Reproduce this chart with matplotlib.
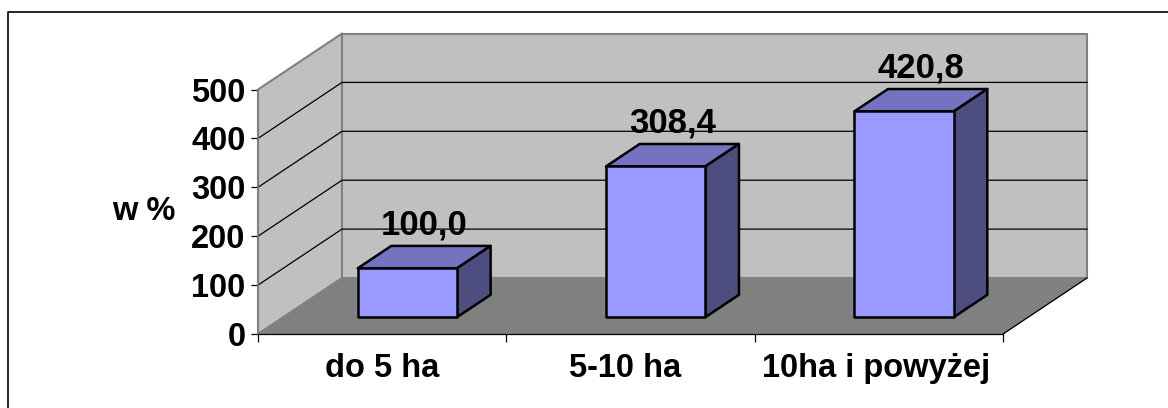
import matplotlib
matplotlib.use('Agg')
import matplotlib.pyplot as plt
from matplotlib.patches import Polygon
from matplotlib.lines import Line2D

categories = ['do 5 ha', '5-10 ha', '10ha i powyżej']
values = [100.0, 308.4, 420.8]
value_labels = ['100,0', '308,4', '420,8']
y_ticks = [0, 100, 200, 300, 400, 500]
label_pos = [0.5, 1.48, 2.49]

W, H = 1168, 408
plt.rcParams['font.family'] = ['Liberation Sans', 'DejaVu Sans']
plt.rcParams['font.weight'] = 'bold'

fig = plt.figure(figsize=(W/100, H/100), dpi=100)
left, right, top, bottom = 258, 1003, 89.5, 334
ax = fig.add_axes([left/W, 1-bottom/H, (right-left)/W, (bottom-top)/H])
ax.set_xlim(0, len(categories))
ax.set_ylim(0, 500)

# depth of the 3d box, in data units
depth_x = 84/((right-left)/3)
depth_y = 56/((bottom-top)/500)

def pt(x, y, d=1.0):
    return (x+d*depth_x, y+d*depth_y)

def face(points, color, edge, lw, z):
    ax.add_patch(Polygon(points, closed=True, facecolor=color, edgecolor=edge,
                         linewidth=lw, zorder=z, clip_on=False, joinstyle='round'))

n = len(categories)
# walls and floor
face([pt(0, 0, 0), pt(0, 500, 0), pt(0, 500), pt(0, 0)], '#c0c0c0', '#808080', 1.5, 1)
face([pt(0, 0), pt(0, 500), pt(n, 500), pt(n, 0)], '#c0c0c0', '#808080', 1.5, 1)
face([pt(0, 0, 0), pt(n, 0, 0), pt(n, 0), pt(0, 0)], '#808080', '#808080', 0.5, 2)

# gridlines
for t in y_ticks[1:-1]:
    a, b, c = pt(0, t, 0), pt(0, t), pt(n, t)
    ax.plot([a[0], b[0], c[0]], [a[1], b[1], c[1]], color='black', lw=0.9, zorder=3, clip_on=False)

# floor front/right edge
a, b = pt(n, 0, 0), pt(n, 0)
ax.plot([a[0], b[0]], [a[1], b[1]], color='black', lw=0.9, zorder=3, clip_on=False)

# bars
bar_w = 0.4
for i, v in enumerate(values):
    x0 = i+0.3
    x1 = x0+bar_w
    d0, d1 = 0.3, 0.7
    face([pt(x0, v, d0), pt(x1, v, d0), pt(x1, v, d1), pt(x0, v, d1)], '#7373bf', 'black', 1.8, 5)
    face([pt(x1, 0, d0), pt(x1, v, d0), pt(x1, v, d1), pt(x1, 0, d1)], '#4d4d80', 'black', 1.8, 5)
    face([pt(x0, 0, d0), pt(x1, 0, d0), pt(x1, v, d0), pt(x0, v, d0)], '#9999ff', 'black', 1.8, 6)
    lx = pt(i+0.5, v, 0.5)[0]
    ly = pt(i+0.5, v, d1)[1]
    ax.annotate(value_labels[i], (lx, ly), xytext=(0, 8), textcoords='offset points',
                ha='center', va='baseline', fontsize=25, fontweight='bold', zorder=8,
                annotation_clip=False)

# axes
for s in ['top', 'right']:
    ax.spines[s].set_visible(False)
ax.spines['left'].set_color('#808080')
ax.spines['left'].set_linewidth(1.2)
ax.spines['bottom'].set_color('black')
ax.spines['bottom'].set_linewidth(0.9)
ax.spines['left'].set_zorder(4)
ax.spines['bottom'].set_zorder(4)
ax.patch.set_visible(False)

ax.set_yticks(y_ticks)
ax.set_yticklabels([str(t) for t in y_ticks], fontsize=23.5, fontweight='bold')
ax.tick_params(axis='y', length=5, width=0.9, pad=4)
ax.set_xticks(range(n+1))
ax.set_xticklabels([])
ax.set_xticks(label_pos, minor=True)
ax.set_xticklabels(categories, minor=True, fontsize=23.5, fontweight='bold')
ax.tick_params(axis='x', which='major', length=6, width=0.9)
ax.tick_params(axis='x', which='minor', length=0, pad=14)

ax.set_ylabel('w %', rotation=0, fontsize=23.5, fontweight='bold', ha='center', va='center')
ax.yaxis.set_label_coords((144-left)/(right-left), (bottom-211)/(bottom-top))

# outer frame of the chart
fig.add_artist(Line2D([8/W, 8/W, 1], [0, 1-12/H, 1-12/H], color='black', lw=1.2))

fig.savefig('out.png', dpi=100)
